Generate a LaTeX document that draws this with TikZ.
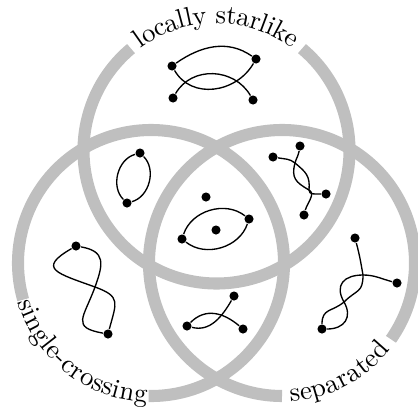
\documentclass[tikz,border=0pt]{standalone}
\usepackage{xcolor}
\usepackage{tikz}
\usetikzlibrary{decorations.text}
\definecolor{ringGray}{gray}{0.75}

\begin{document}
\begin{tikzpicture}[
    x=0.373pt, y=0.373pt,
    ring/.style={ringGray, line width=4.5pt},
    setname/.style={decorate, decoration={text along path, text={#1},
      text align=center, raise=-2.2pt}},
    dot/.style={circle, fill, inner sep=0pt, minimum size=3.4pt},
    curve/.style={line width=0.5pt}]
    \useasboundingbox (0,0) rectangle (418,409);
    % --- the three sets (gaps for the names) ---
    \def\ringr{133}
    \coordinate (ct) at (216.5,258.5);
    \coordinate (cl) at (151,146);
    \coordinate (cr) at (282,146);
    \draw[ring] (ct) ++(130:\ringr) arc[start angle=130, end angle=410, radius=\ringr];
    \draw[ring] (cl) ++(269:\ringr) arc[start angle=269, end angle=556, radius=\ringr];
    \draw[ring] (cr) ++(325:\ringr) arc[start angle=325, end angle=630, radius=\ringr];
    \path[setname={locally starlike}] (ct) ++(130:\ringr) arc[start angle=130, end angle=50, radius=\ringr];
    \path[setname={single-crossing}] (cl) ++(196:\ringr) arc[start angle=196, end angle=269, radius=\ringr];
    \path[setname={separated}] (cr) ++(270:\ringr) arc[start angle=270, end angle=325, radius=\ringr];
    % --- locally starlike only ---
    \node[dot] (a) at (172,343) {};
    \node[dot] (b) at (256,350) {};
    \node[dot] (c) at (173,311) {};
    \node[dot] (d) at (253,309) {};
    \draw[curve] (a) to[out=35,in=145] (b);
    \draw[curve] (a) to[out=-60,in=-120,looseness=1.1] (b);
    \draw[curve] (c) to[out=60,in=120,looseness=1.1] (d);
    % --- starlike + single-crossing ---
    \node[dot] (e) at (140,256) {};
    \node[dot] (f) at (127,206) {};
    \draw[curve] (f) to[bend left=60] (e);
    \draw[curve] (f) to[bend right=60] (e);
    % --- all three ---
    \node[dot] (g) at (206,212) {};
    \node[dot] (h) at (182,170) {};
    \node[dot] (i) at (249,190) {};
    \node[dot] (j) at (216,179) {};
    \draw[curve] (h) to[bend left=55] (i);
    \draw[curve] (h) to[bend right=55] (i);
    % --- starlike + separated ---
    \node[dot] (k) at (273,252) {};
    \node[dot] (l) at (300,263) {};
    \node[dot] (m) at (326,215) {};
    \node[dot] (n) at (304,194) {};
    \coordinate (kl1) at (295,246);
    \coordinate (kl2) at (309,219);
    \draw[curve] (k) to[out=-10,in=140] (kl1) to[out=-40,in=85,looseness=1.2] (kl2) to[out=-95,in=180] (m);
    \draw[curve] (l) to[out=-100,in=75] (kl1) to[out=-105,in=150,looseness=1.3] (kl2) to[out=-30,in=75] (n);
    % --- single-crossing only ---
    \node[dot] (p) at (76,163) {};
    \node[dot] (q) at (108,75) {};
    \coordinate (pq) at (95,122);
    \draw[curve] (p) to[out=210,in=160,looseness=2.3] (pq) to[out=-20,in=75,looseness=1.6] (q);
    \draw[curve] (p) to[out=-10,in=70,looseness=1.5] (pq) to[out=-110,in=170,looseness=1.8] (q);
    % --- single-crossing + separated ---
    \node[dot] (s) at (187,83) {};
    \node[dot] (t) at (234,113) {};
    \node[dot] (u) at (243,80) {};
    \draw[curve] (s) to[out=45,in=140,looseness=1.1] (u);
    \draw[curve] (s) to[out=-15,in=240] (t);
    % --- separated only ---
    \node[dot] (v) at (355,171) {};
    \node[dot] (w) at (322,80) {};
    \node[dot] (x) at (397,126) {};
    \coordinate (vx1) at (363,134);
    \coordinate (vx2) at (344,107);
    \draw[curve] (v) to[out=-75,in=100] (vx1) to[out=-90,in=45,looseness=1.4] (vx2) to[out=-140,in=90,looseness=1.3] (w);
    \draw[curve] (x) to[out=165,in=0] (vx1) to[out=180,in=120,looseness=1.5] (vx2) to[out=-60,in=0,looseness=1.4] (w);
\end{tikzpicture}
\end{document}
